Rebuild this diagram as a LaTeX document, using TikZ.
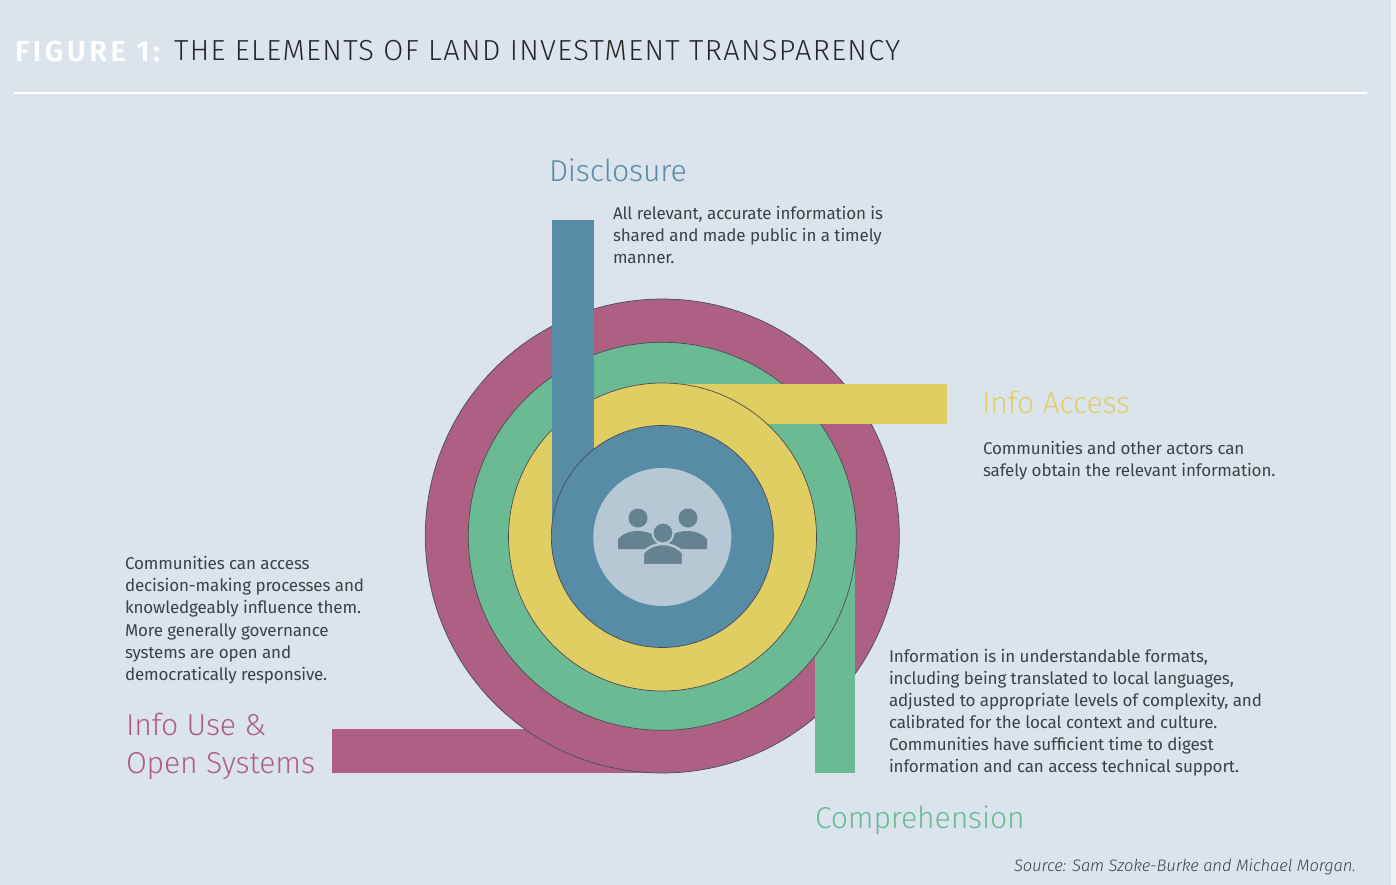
\documentclass[tikz,border=0pt]{standalone}
\usepackage{fontspec}
\setmainfont{Fira Sans}[BoldFont={* SemiBold},ItalicFont={* Light Italic},LetterSpace=-0.75]
\newfontfamily\headfont{Fira Sans}[UprightFont={* Light},LetterSpace=-0.5]
\newfontfamily\titlefont{Fira Sans}[UprightFont={* Light},LetterSpace=4.65]
\newfontfamily\titleboldfont{Fira Sans}[UprightFont={* SemiBold},LetterSpace=12]
\definecolor{bgc}{HTML}{DBE4ED}
\definecolor{strip}{HTML}{EDF2F6}
\definecolor{mag}{HTML}{AE6083}
\definecolor{grn}{HTML}{6ABB94}
\definecolor{yel}{HTML}{E1CE62}
\definecolor{blu}{HTML}{568CA5}
\definecolor{lgt}{HTML}{B5C8D4}
\definecolor{icn}{HTML}{66818F}
\definecolor{txt}{HTML}{3A4247}
\definecolor{edgec}{HTML}{4A4A55}
\tikzset{
 x=1pt,y=-1pt,
 ring/.style={draw=edgec,line width=0.7pt},
 body/.style={anchor=north west,inner sep=0pt,outer sep=0pt,align=left,text=txt,font=\fontsize{17}{22.1}\selectfont},
 head/.style={anchor=west,inner sep=0pt,outer sep=0pt,font=\headfont\fontsize{30.2}{38.5}\selectfont,align=left},
}
\begin{document}
\begin{tikzpicture}
\useasboundingbox (0,0) rectangle (1396,885);
\fill[bgc] (0,0) rectangle (1396,885);
\fill[strip] (1390.5,0) rectangle (1396,885);
% title
\node[anchor=west,inner sep=0pt,text=white,font=\titleboldfont\fontsize{29}{32}\selectfont] (t1) at (15,51) {FIGURE 1:};
\node[anchor=west,inner sep=0pt,text=black!85,font=\titlefont\fontsize{29}{32}\selectfont] (t2) at (174,51) {THE ELEMENTS OF LAND INVESTMENT TRANSPARENCY};
\draw[white,line width=2pt] (14,93) -- (1367,93);
% rings and bars
\fill[mag] (332,729) rectangle (662,773);
\fill[mag,ring] (662.3,536) circle[radius=237];
\fill[grn] (815,536) rectangle (855,773);
\fill[grn,ring] (662.3,536.3) circle[radius=194];
\fill[yel] (662,384) rectangle (947,424);
\fill[yel,ring] (662.5,537) circle[radius=154];
\fill[blu] (552,220) rectangle (594,536);
\fill[blu,ring] (662.3,536.5) circle[radius=111];
\fill[lgt] (662.3,537) circle[radius=69];
% people icon
\fill[icn] (638,518) circle[radius=9.5];
\fill[icn] (688,518) circle[radius=9.5];
\fill[icn] (618,549) -- (618,539) .. controls (622,534) and (630,531) .. (638,531) .. controls (646,531) and (654,534) .. (658,539) -- (658,549) -- cycle;
\fill[icn] (707,549) -- (707,539) .. controls (703,534) and (695,531) .. (687,531) .. controls (679,531) and (671,534) .. (667,539) -- (667,549) -- cycle;
\fill[icn,draw=lgt,line width=2.5pt] (642.8,565.2) -- (642.8,553) .. controls (648,547) and (655,544) .. (663,544) .. controls (671,544) and (678,547) .. (683.2,553) -- (683.2,565.2) -- cycle;
\fill[lgt] (642,564.5) rectangle (684,567);
\fill[icn,draw=lgt,line width=2pt] (663,533) circle[radius=10.5];
% headings
\node[head,text=blu] (h1) at (549,170) {Disclosure};
\node[head,text=yel] (h2) at (982,402) {Info Access};
\node[head,text=grn] (h3) at (815,820.5) {Comprehension};
\node[head,text=mag,anchor=north west] (h4) at (126,713) {Info Use \&\\Open Systems};
% texts
\node[body] (b1) at (613,206.5) {All relevant, accurate information is\\shared and made public in a timely\\manner.};
\node[body] (b2) at (983,441) {Communities and other actors can\\safely obtain the relevant information.};
\node[body] (b3) at (889,649) {Information is in understandable formats,\\including being translated to local languages,\\adjusted to appropriate levels of complexity, and\\calibrated for the local context and culture.\\Communities have sufficient time to digest\\information and can access technical support.};
\node[body] (b4) at (125,556.5) {Communities can access\\decision-making processes and\\knowledgeably influence them.\\More generally governance\\systems are open and\\democratically responsive.};
\node[anchor=east,inner sep=0pt,text=txt,font=\fontsize{16.6}{22}\selectfont\itshape] (src) at (1356,867) {Source: Sam Szoke-Burke and Michael Morgan.};
\end{tikzpicture}
\end{document}
